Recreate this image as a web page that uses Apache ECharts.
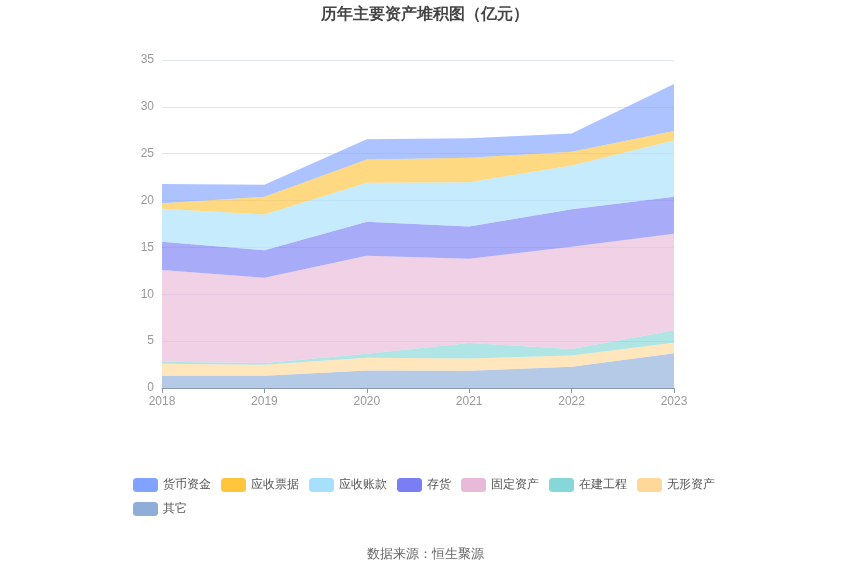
<!DOCTYPE html>
<html>
<head>
<meta charset="utf-8">
<script src="https://cdn.jsdelivr.net/npm/echarts@6/dist/echarts.min.js"></script>
<style>
  html, body { margin: 0; padding: 0; background: #fff; }
  #main { width: 850px; height: 575px; }
</style>
</head>
<body>
<div id="main"></div>
<script>
const years = ['2018', '2019', '2020', '2021', '2022', '2023']

// 亿元 (bottom layer first)
const qita = [1.31, 1.31, 1.88, 1.85, 2.27, 3.70]
const wuxing = [1.28, 1.18, 1.35, 1.31, 1.21, 1.13]
const zaijian = [0.22, 0.18, 0.43, 1.64, 0.68, 1.32]
const guding = [9.77, 9.09, 10.45, 8.99, 10.91, 10.30]
const cunhuo = [3.02, 2.95, 3.62, 3.45, 4.01, 3.95]
const yingshouZK = [3.52, 3.80, 4.16, 4.72, 4.66, 6.00]
const yingshouPJ = [0.60, 1.89, 2.49, 2.60, 1.46, 1.03]
const huobi = [2.06, 1.28, 2.17, 2.09, 1.95, 5.01]

const legendOrder = ['货币资金', '应收票据', '应收账款', '存货', '固定资产', '在建工程', '无形资产', '其它']

const layers = [
  { name: '其它', data: qita, color: '#8eaed8' },
  { name: '无形资产', data: wuxing, color: '#ffd899' },
  { name: '在建工程', data: zaijian, color: '#85d7d9' },
  { name: '固定资产', data: guding, color: '#e8b9d9' },
  { name: '存货', data: cunhuo, color: '#7a7ef3' },
  { name: '应收账款', data: yingshouZK, color: '#a6e0fc' },
  { name: '应收票据', data: yingshouPJ, color: '#ffc53d' },
  { name: '货币资金', data: huobi, color: '#80a3ff' }
]

const chart = echarts.init(document.getElementById('main'))

const option = {
  animation: false,
  title: {
    text: '历年主要资产堆积图（亿元）',
    left: 'center',
    top: 2,
    textStyle: { fontSize: 16, fontWeight: 'bold', color: '#444' }
  },
  legend: {
    data: legendOrder,
    left: 128,
    top: 473,
    width: 600,
    itemWidth: 25,
    itemHeight: 14,
    itemGap: 10,
    icon: 'roundRect',
    textStyle: { fontSize: 12, color: '#555', lineHeight: 12 }
  },
  graphic: [{
    type: 'text',
    left: 'center',
    top: 548,
    style: { text: '数据来源：恒生聚源', fontSize: 13, fill: '#666' }
  }],
  grid: { left: 162, right: 176, top: 60, bottom: 187 },
  xAxis: {
    type: 'category',
    boundaryGap: false,
    data: years,
    axisLine: { lineStyle: { color: '#8a98ad' } },
    axisTick: { show: true, alignWithLabel: true },
    axisLabel: { color: '#999', fontSize: 12 }
  },
  yAxis: {
    type: 'value',
    min: 0,
    max: 35,
    interval: 5,
    axisLabel: { color: '#999', fontSize: 12 },
    splitLine: { lineStyle: { color: '#e0e6f1' } }
  },
  series: layers.map((l) => ({
    name: l.name,
    type: 'line',
    stack: 'total',
    data: l.data,
    symbol: 'none',
    lineStyle: { width: 0 },
    itemStyle: { color: l.color },
    areaStyle: { color: l.color, opacity: 0.65 }
  }))
}

chart.setOption(option)
</script>
</body>
</html>
